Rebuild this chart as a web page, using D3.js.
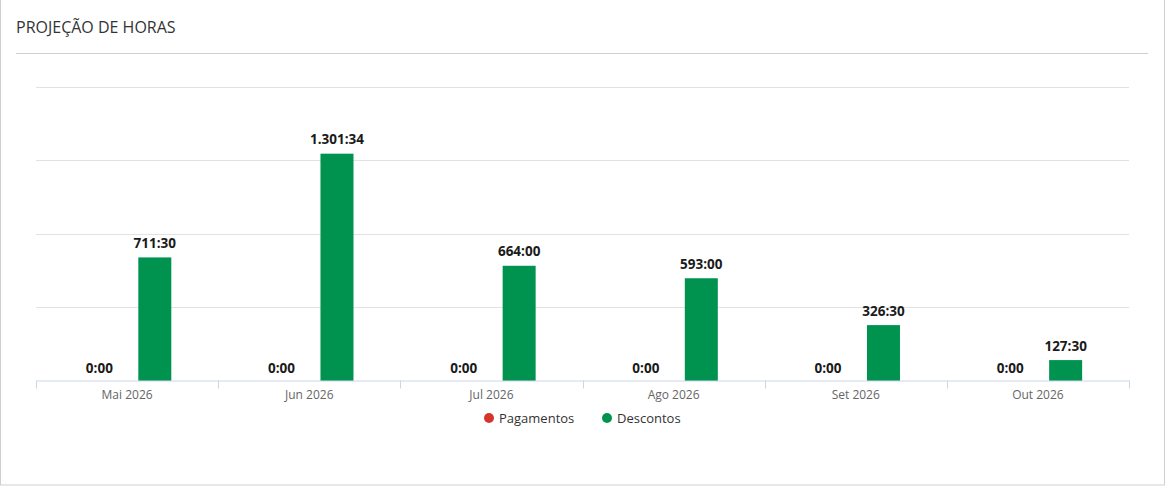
<!DOCTYPE html>
<html>
<head>
<meta charset="utf-8">
<script src="https://cdn.jsdelivr.net/npm/d3@7"></script>
<style>
  body { margin: 0; background: #fff; font-family: "Open Sans", sans-serif; }
  svg { display: block; }
</style>
</head>
<body>
<svg width="1167" height="487"></svg>
<script>
// months on the x axis
const months = ["Mai 2026", "Jun 2026", "Jul 2026", "Ago 2026", "Set 2026", "Out 2026"];
// series names
const seriesNames = ["Pagamentos", "Descontos"];
const seriesColors = ["#d7352c", "#00934f"];
// values in minutes
const pagamentos = [0, 0, 0, 0, 0, 0];
const descontos = [711 * 60 + 30, 1301 * 60 + 34, 664 * 60, 593 * 60, 326 * 60 + 30, 127 * 60 + 30];
const yTicks = [0, 25000, 50000, 75000, 100000];

function fmt(min) {
    const h = Math.floor(min / 60), m = min % 60;
    return d3.format(",")(h).replace(/,/g, ".") + ":" + String(m).padStart(2, "0");
}

const svg = d3.select("svg");

// card frame
svg.append("rect")
    .attr("x", 0.5).attr("y", -1).attr("width", 1164).attr("height", 486)
    .attr("fill", "none").attr("stroke", "#cfcfcf");

svg.append("text")
    .attr("x", 16).attr("y", 33)
    .attr("font-size", 16).attr("fill", "#333")
    .text("PROJEÇÃO DE HORAS");

svg.append("line")
    .attr("x1", 16).attr("x2", 1148).attr("y1", 53.5).attr("y2", 53.5)
    .attr("stroke", "#d0d0d0");

const x0 = d3.scaleBand().domain(months).range([36, 1129]);
const x1 = d3.scaleBand().domain(seriesNames).range([0, x0.bandwidth()])
    .paddingInner(0.405).paddingOuter(0.845);
const y = d3.scaleLinear().domain([0, 100000]).range([381, 88]);

// gridlines
svg.append("g")
    .selectAll("line")
    .data(yTicks.slice(1))
    .enter().append("line")
    .attr("x1", 36).attr("x2", 1129)
    .attr("y1", d => Math.round(y(d)) - 0.5)
    .attr("y2", d => Math.round(y(d)) - 0.5)
    .attr("stroke", "#e2e2e2");

// bars
const data = months.map((m, i) => ({ month: m, values: [pagamentos[i], descontos[i]] }));
const group = svg.append("g")
    .selectAll("g")
    .data(data)
    .enter().append("g")
    .attr("transform", d => `translate(${x0(d.month)},0)`);

group.selectAll("rect")
    .data(d => d.values.map((v, j) => ({ name: seriesNames[j], v: v, j: j })))
    .enter().append("rect")
    .attr("x", d => x1(d.name))
    .attr("width", x1.bandwidth())
    .attr("y", d => y(d.v) + 1.5)
    .attr("height", d => Math.max(0, y(0) - y(d.v) - 1.5))
    .attr("fill", d => seriesColors[d.j]);

group.selectAll("text")
    .data(d => d.values.map((v, j) => ({ name: seriesNames[j], v: v })))
    .enter().append("text")
    .attr("x", d => x1(d.name) + x1.bandwidth() / 2)
    .attr("y", d => y(d.v) - 8)
    .attr("text-anchor", "middle")
    .attr("font-size", 13.5).attr("font-weight", "bold").attr("fill", "#1a1a1a")
    .text(d => fmt(d.v));

// x axis
const xAxis = svg.append("g")
    .attr("transform", "translate(0,380.5)")
    .call(d3.axisBottom(x0).tickSize(0).tickPadding(10));
xAxis.select(".domain").attr("stroke", "#ccd6eb");
xAxis.selectAll("text").attr("font-family", "Open Sans").attr("font-size", 12).attr("fill", "#666");
xAxis.selectAll(".sep")
    .data(d3.range(months.length + 1))
    .enter().append("line")
    .attr("x1", i => Math.round(36 + i * x0.step()) + 0.5)
    .attr("x2", i => Math.round(36 + i * x0.step()) + 0.5)
    .attr("y1", 0).attr("y2", 8)
    .attr("stroke", "#ccd6eb");

// legend
const legend = svg.append("g");
const legendX = [489, 607];
seriesNames.forEach((n, i) => {
    legend.append("circle")
        .attr("cx", legendX[i]).attr("cy", 418).attr("r", 5)
        .attr("fill", seriesColors[i]);
    legend.append("text")
        .attr("x", legendX[i] + 10).attr("y", 423)
        .attr("font-size", 13).attr("fill", "#333")
        .text(n);
});
</script>
</body>
</html>
